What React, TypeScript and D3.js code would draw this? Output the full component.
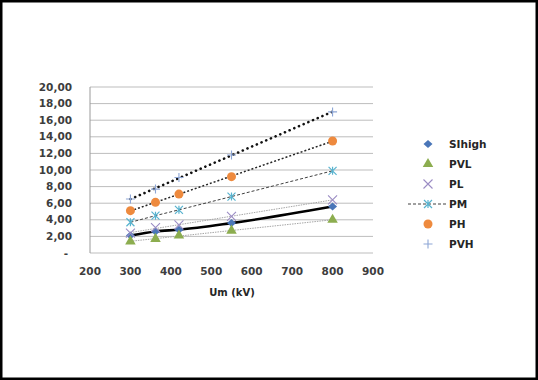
import React from "react";
import * as d3 from "d3";

const umKV = [300, 362, 420, 550, 800];
const siHigh = [2.1, 2.6, 2.8, 3.6, 5.6];
const pvl = [1.4, 1.7, 2.1, 2.7, 4.0];
const pl = [2.4, 3.05, 3.4, 4.4, 6.4];
const pm = [3.7, 4.5, 5.2, 6.8, 9.9];
const ph = [5.1, 6.1, 7.1, 9.2, 13.5];
const pvh = [6.5, 7.7, 9.1, 11.8, 17.0];

const xTicks = [200, 300, 400, 500, 600, 700, 800, 900];
const yTicks = [0, 2, 4, 6, 8, 10, 12, 14, 16, 18, 20];
const seriesNames = ["SIhigh", "PVL", "PL", "PM", "PH", "PVH"];

type Marker = "diamond" | "triangle" | "x" | "star" | "circle" | "plus";

const W = 538;
const H = 380;
const plot = { left: 90, right: 373, top: 87, bottom: 253 };

const x = d3.scaleLinear().domain([200, 900]).range([plot.left, plot.right]);
const y = d3.scaleLinear().domain([0, 20]).range([plot.bottom, plot.top]);

const font = "DejaVu Sans";

function fit(xs: number[], ys: number[]) {
  const mx = d3.mean(xs)!;
  const my = d3.mean(ys)!;
  let num = 0, den = 0;
  xs.forEach((v, i) => {
    num += (v - mx) * (ys[i] - my);
    den += (v - mx) * (v - mx);
  });
  const b = num / den;
  const a = my - b * mx;
  const x0 = xs[0], x1 = xs[xs.length - 1];
  return [
    [x0, a + b * x0],
    [x1, a + b * x1],
  ] as [number, number][];
}

function MarkerShape({ kind, cx, cy, color }: { kind: Marker; cx: number; cy: number; color: string }) {
  switch (kind) {
    case "diamond": {
      const w = 4.5, h = 4;
      return <path d={`M${cx},${cy - h}L${cx + w},${cy}L${cx},${cy + h}L${cx - w},${cy}Z`} fill={color} />;
    }
    case "triangle":
      return <path d={d3.symbol(d3.symbolTriangle, 48)()!} transform={`translate(${cx},${cy})`} fill={color} />;
    case "circle":
      return <circle cx={cx} cy={cy} r={4.5} fill={color} />;
    case "x": {
      const s = 4.5;
      return (
        <path d={`M${cx - s},${cy - s}L${cx + s},${cy + s}M${cx - s},${cy + s}L${cx + s},${cy - s}`} stroke={color} strokeWidth={1.1} />
      );
    }
    case "plus": {
      const s = 4.5;
      return <path d={`M${cx - s},${cy}L${cx + s},${cy}M${cx},${cy - s}L${cx},${cy + s}`} stroke={color} strokeWidth={1.1} />;
    }
    case "star": {
      const s = 4;
      return (
        <path
          d={`M${cx - s},${cy - s}L${cx + s},${cy + s}M${cx - s},${cy + s}L${cx + s},${cy - s}M${cx},${cy - s}L${cx},${cy + s}`}
          stroke={color}
          strokeWidth={1.2}
        />
      );
    }
  }
}

export default function App() {
  const line = d3
    .line<[number, number]>()
    .x((d) => x(d[0]))
    .y((d) => y(d[1]));
  const curve = d3
    .line<[number, number]>()
    .x((d) => x(d[0]))
    .y((d) => y(d[1]))
    .curve(d3.curveMonotoneX);

  const pts = (vals: number[]) => umKV.map((u, i) => [u, vals[i]] as [number, number]);

  const series: { name: string; vals: number[]; marker: Marker; color: string }[] = [
    { name: seriesNames[0], vals: siHigh, marker: "diamond", color: "#4a76b8" },
    { name: seriesNames[1], vals: pvl, marker: "triangle", color: "#8cad4f" },
    { name: seriesNames[2], vals: pl, marker: "x", color: "#9b8cc4" },
    { name: seriesNames[3], vals: pm, marker: "star", color: "#58b3cf" },
    { name: seriesNames[4], vals: ph, marker: "circle", color: "#ee8a3e" },
    { name: seriesNames[5], vals: pvh, marker: "plus", color: "#8da6d6" },
  ];

  return (
    <svg width={W} height={H} style={{ position: "fixed", left: 0, top: 0 }} xmlns="http://www.w3.org/2000/svg">
      <rect x={0} y={0} width={W} height={H} fill="#fff" />
      <rect x={1.25} y={1.25} width={W - 2.5} height={H - 2.5} fill="none" stroke="#000" strokeWidth={2.5} />

      {/* gridlines */}
      {yTicks.map((t) => (
        <line key={t} x1={plot.left} x2={plot.right} y1={y(t)} y2={y(t)} stroke="#bdbdbd" strokeWidth={1} />
      ))}
      <line x1={plot.left} x2={plot.left} y1={plot.top} y2={plot.bottom} stroke="#9a9a9a" strokeWidth={1} />

      {/* y tick labels */}
      {yTicks.map((t) => (
        <text
          key={t}
          x={t === 0 ? 66 : 72}
          y={y(t)}
          dy="0.35em"
          textAnchor={t === 0 ? "middle" : "end"}
          fontFamily={font}
          fontSize={10.5}
          fontWeight="bold"
          fill="#3d3d3d"
        >
          {t === 0 ? "-" : d3.format(".2f")(t).replace(".", ",")}
        </text>
      ))}
      {/* x tick labels */}
      {xTicks.map((t) => (
        <text key={t} x={x(t)} y={275} textAnchor="middle" fontFamily={font} fontSize={10.5} fontWeight="bold" fill="#3d3d3d">
          {t}
        </text>
      ))}
      <text x={232} y={296} textAnchor="middle" fontFamily={font} fontSize={10} fontWeight="bold" fill="#262626">
        Um (kV)
      </text>

      {/* lines */}
      <path d={line(fit(umKV, pvl))!} fill="none" stroke="#a6a6a6" strokeWidth={1} strokeDasharray="1.5 1" />
      <path d={line(fit(umKV, pl))!} fill="none" stroke="#a6a6a6" strokeWidth={1} strokeDasharray="1.5 1" />
      <path d={line(pts(pm))!} fill="none" stroke="#404040" strokeWidth={1} strokeDasharray="3 2" />
      <path d={line(fit(umKV, ph))!} fill="none" stroke="#262626" strokeWidth={1.5} strokeDasharray="2 2" />
      <path d={line(fit(umKV, pvh))!} fill="none" stroke="#111" strokeWidth={2.6} strokeDasharray="0.1 5" strokeLinecap="round" />
      <path d={curve(pts(siHigh))!} fill="none" stroke="#000" strokeWidth={2.6} />

      {/* markers */}
      {series.map((s) =>
        s.vals.map((v, i) => <MarkerShape key={s.name + i} kind={s.marker} cx={x(umKV[i])} cy={y(v)} color={s.color} />)
      )}

      {/* legend */}
      {series.map((s, i) => {
        const ly = 144 + i * 20;
        return (
          <g key={s.name}>
            {s.name === "PM" && (
              <line x1={408} x2={447} y1={ly} y2={ly} stroke="#404040" strokeWidth={1} strokeDasharray="3 2" />
            )}
            <MarkerShape kind={s.marker} cx={428} cy={ly} color={s.color} />
            <text x={449} y={ly} dy="0.35em" fontFamily={font} fontSize={10.5} fontWeight="bold" fill="#262626">
              {s.name}
            </text>
          </g>
        );
      })}
    </svg>
  );
}
